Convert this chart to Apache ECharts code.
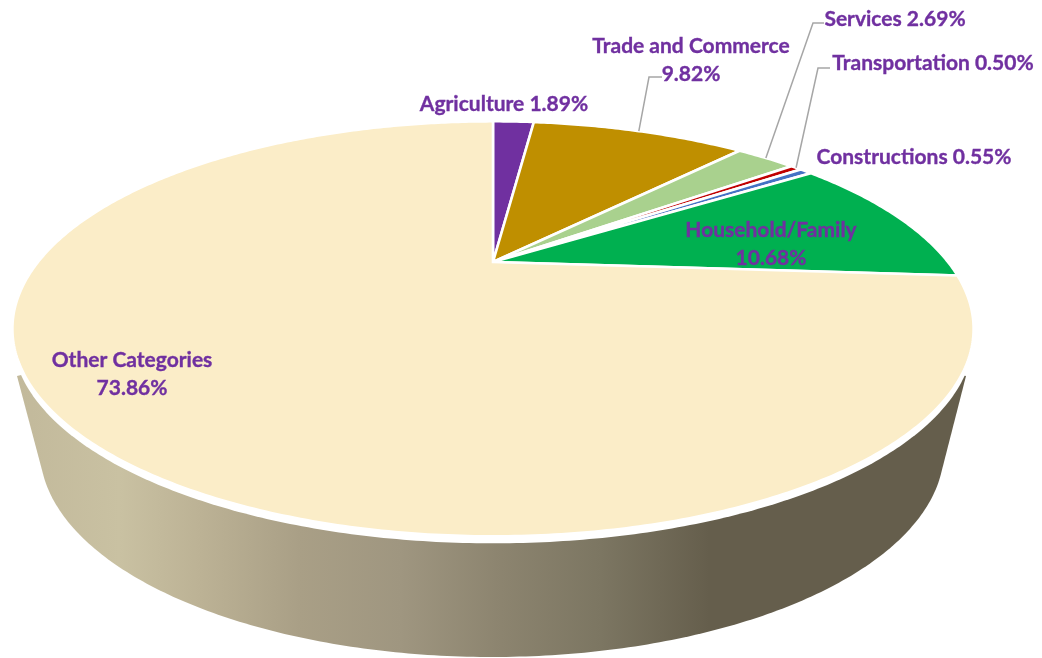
<!DOCTYPE html>
<html>
<head>
<meta charset="utf-8">
<style>html,body{margin:0;padding:0;background:#fff}#chart{width:1042px;height:658px}</style>
<script src="https://cdn.jsdelivr.net/npm/echarts@6/dist/echarts.min.js"></script>
</head>
<body>
<div id="chart"></div>
<script>
// Share of each category, clockwise from twelve o'clock
var categories = ['Agriculture', 'Trade and Commerce', 'Services', 'Transportation', 'Constructions', 'Household/Family', 'Other Categories'];
var shares = [1.89, 9.82, 2.69, 0.50, 0.55, 10.68, 73.86];
var sliceColors = ['#7030A0', '#BF8F00', '#A9D18E', '#C00000', '#4472C4', '#00B050', '#FBEDC8'];

// Label placement: text lines centred on x, first row at y; elbow is the leader's bend
var labelLayout = [
  {lines: ['Agriculture 1.89%'], x: 504, y: 104},
  {lines: ['Trade and Commerce', '9.82%'], x: 691, y: 46, elbow: [[649, 77], [662, 77]]},
  {lines: ['Services 2.69%'], x: 895, y: 19, elbow: [[813, 23], [824, 23]]},
  {lines: ['Transportation 0.50%'], x: 933, y: 63, elbow: [[818, 68], [830, 68]]},
  {lines: ['Constructions 0.55%'], x: 914, y: 157},
  {lines: ['Household/Family', '10.68%'], x: 771, y: 230},
  {lines: ['Other Categories', '73.86%'], x: 132, y: 360}
];

// Perspective view of the pie's top face: a unit circle mapped onto the page
var apex = {x: 493, y: 262};
var view = {k: 455, a: 186, c: -0.322};
function project(angle) {
  var ux = Math.sin(angle), uy = -Math.cos(angle);
  var w = 1 + view.c * uy;
  return [apex.x + view.k * ux / w, apex.y + view.a * uy / w];
}
function arcPoints(from, to) {
  var pts = [], n = Math.max(2, Math.ceil(Math.abs(to - from) / 0.01));
  for (var i = 0; i <= n; i++) pts.push(project(from + (to - from) * i / n));
  return pts;
}

var total = shares.reduce(function (s, v) { return s + v; }, 0);
var starts = [];
shares.reduce(function (s, v, i) { starts[i] = s; return s + v; }, 0);
function toAngle(v) { return v / total * 2 * Math.PI; }

// Lower rim of the side wall and the corners where the wall leaves the top face
var baseRim = {cx: 492, cy: 450, rx: 452, ry: 207};
var wallLeft = [17, 376], wallRight = [966, 376];
var wallStops = [
  {offset: 0, color: '#C2B99B'},
  {offset: 0.108, color: '#C9C1A2'},
  {offset: 0.193, color: '#BCB295'},
  {offset: 0.298, color: '#A99F86'},
  {offset: 0.404, color: '#9F9680'},
  {offset: 0.51, color: '#8C846F'},
  {offset: 0.615, color: '#7C7662'},
  {offset: 0.73, color: '#655E4C'},
  {offset: 1, color: '#655E4C'}
];

// Angle on the lower rim where a line from a wall corner touches it
function tangentAngle(corner, side) {
  var u = (corner[0] - baseRim.cx) / baseRim.rx, v = (corner[1] - baseRim.cy) / baseRim.ry;
  return Math.atan2(v, u) + side * Math.acos(1 / Math.sqrt(u * u + v * v));
}

function renderWall(params, api) {
  var from = tangentAngle(wallLeft, -1), to = tangentAngle(wallRight, 1);
  if (from < 0) from += 2 * Math.PI;
  var pts = [wallLeft];
  for (var i = 0; i <= 200; i++) {
    var r = from + (to - from) * i / 200;
    pts.push([baseRim.cx + baseRim.rx * Math.cos(r), baseRim.cy + baseRim.ry * Math.sin(r)]);
  }
  pts.push(wallRight);
  pts.push([apex.x, apex.y]);
  return {
    type: 'polygon',
    shape: {points: pts},
    style: {fill: new echarts.graphic.LinearGradient(0, 0, 1, 0, wallStops)}
  };
}

// White band between the wall and the top face: the rim outline pushed down a few pixels
function renderBand(params, api) {
  var pts = arcPoints(0, 2 * Math.PI).map(function (p) { return [p[0], p[1] + 7]; });
  return {type: 'polygon', shape: {points: pts}, style: {fill: '#fff'}};
}

function renderSlice(params, api) {
  var i = params.dataIndex;
  var from = toAngle(api.value(1)), to = from + toAngle(api.value(0));
  var pts = [[apex.x, apex.y]].concat(arcPoints(from, to));
  return {
    type: 'polygon',
    shape: {points: pts},
    style: {fill: sliceColors[i], stroke: '#fff', lineWidth: 2.6, lineJoin: 'miter'}
  };
}

function renderLabel(params, api) {
  var i = params.dataIndex, layout = labelLayout[i], children = [];
  if (layout.elbow) {
    var mid = toAngle(api.value(1) + api.value(0) / 2);
    children.push({
      type: 'polyline',
      shape: {points: [project(mid)].concat(layout.elbow)},
      style: {fill: null, stroke: '#A6A6A6', lineWidth: 1.5}
    });
  }
  layout.lines.forEach(function (line, n) {
    children.push({
      type: 'text',
      style: {
        text: line, x: layout.x, y: layout.y + n * 28,
        align: 'center', verticalAlign: 'middle',
        font: 'bold 21px Lato', fill: '#7030A0',
        stroke: '#7030A0', lineWidth: 0.35
      }
    });
  });
  return {type: 'group', children: children};
}

var sliceData = shares.map(function (v, i) { return [v, starts[i]]; });
var chart = echarts.init(document.getElementById('chart'), null, {renderer: 'canvas'});
chart.setOption({
  animation: false,
  backgroundColor: '#fff',
  series: [
    {type: 'custom', coordinateSystem: 'none', z: 1, silent: true, data: [[0]], renderItem: renderWall},
    {type: 'custom', coordinateSystem: 'none', z: 2, silent: true, data: [[0]], renderItem: renderBand},
    {type: 'custom', coordinateSystem: 'none', z: 3, silent: true, name: 'Share', data: sliceData, renderItem: renderSlice},
    {type: 'custom', coordinateSystem: 'none', z: 4, silent: true, data: sliceData, renderItem: renderLabel}
  ]
});
</script>
</body>
</html>
